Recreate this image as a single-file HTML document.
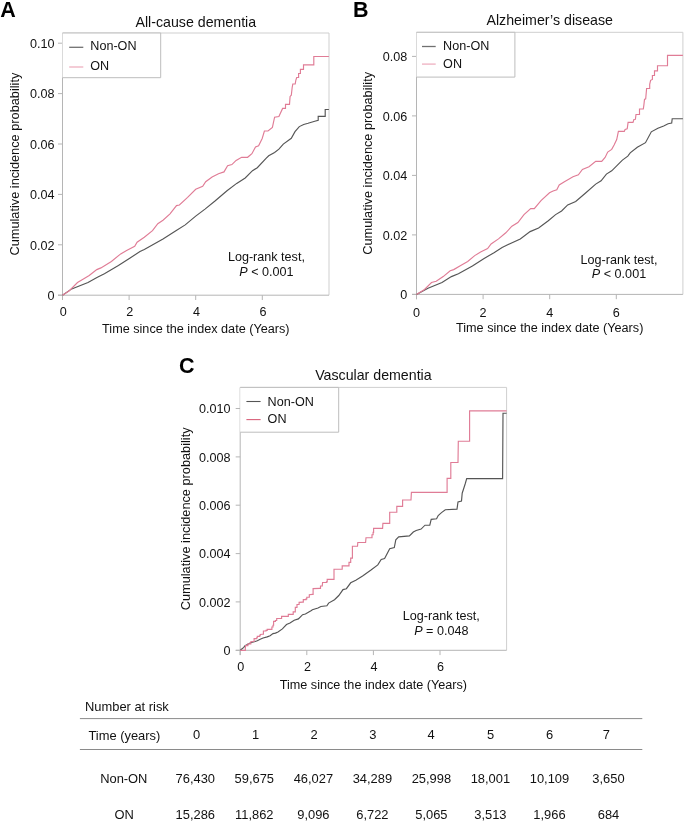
<!DOCTYPE html>
<html><head><meta charset="utf-8"><title>Cumulative incidence</title>
<style>
html,body{margin:0;padding:0;background:#fff;}
body{width:685px;height:824px;overflow:hidden;}
svg{display:block;will-change:transform;}
text{font-family:"Liberation Sans", sans-serif;fill:#111;}
.t{font-size:12.6px;}
.tb{font-size:12.9px;}
.ti{font-size:14.2px;}
.pl{font-size:21.5px;font-weight:bold;fill:#000;}
</style></head>
<body>
<svg width="685" height="824" viewBox="0 0 685 824">
<rect width="685" height="824" fill="#fff"/>
<path d="M62.5 33.0H329.0V295.2" fill="none" stroke="#cfcfcf" stroke-width="1"/>
<path d="M62.5 33.0V300.0" stroke="#b5b5b5" stroke-width="1" fill="none"/>
<path d="M58.0 295.2H62.5" stroke="#b5b5b5" stroke-width="1"/>
<text x="54.6" y="299.9" text-anchor="end" class="t">0</text>
<path d="M58.0 244.8H62.5" stroke="#b5b5b5" stroke-width="1"/>
<text x="54.6" y="249.5" text-anchor="end" class="t">0.02</text>
<path d="M58.0 194.4H62.5" stroke="#b5b5b5" stroke-width="1"/>
<text x="54.6" y="199.1" text-anchor="end" class="t">0.04</text>
<path d="M58.0 144.0H62.5" stroke="#b5b5b5" stroke-width="1"/>
<text x="54.6" y="148.7" text-anchor="end" class="t">0.06</text>
<path d="M58.0 93.6H62.5" stroke="#b5b5b5" stroke-width="1"/>
<text x="54.6" y="98.3" text-anchor="end" class="t">0.08</text>
<path d="M58.0 43.2H62.5" stroke="#b5b5b5" stroke-width="1"/>
<text x="54.6" y="47.9" text-anchor="end" class="t">0.10</text>
<path d="M58.0 295.2H329.0" stroke="#b5b5b5" stroke-width="1" fill="none"/>
<path d="M62.5 295.2V300.0" stroke="#b5b5b5" stroke-width="1"/>
<text x="63.2" y="316.4" text-anchor="middle" class="t">0</text>
<path d="M129.1 295.2V300.0" stroke="#b5b5b5" stroke-width="1"/>
<text x="129.8" y="316.4" text-anchor="middle" class="t">2</text>
<path d="M195.7 295.2V300.0" stroke="#b5b5b5" stroke-width="1"/>
<text x="196.4" y="316.4" text-anchor="middle" class="t">4</text>
<path d="M262.3 295.2V300.0" stroke="#b5b5b5" stroke-width="1"/>
<text x="263.0" y="316.4" text-anchor="middle" class="t">6</text>
<text x="195.8" y="332.8" text-anchor="middle" class="t" style="font-size:12.65px">Time since the index date (Years)</text>
<text transform="translate(19.0 164.1) rotate(-90)" text-anchor="middle" class="t" style="font-size:12.75px">Cumulative incidence probability</text>
<text x="195.8" y="26.9" text-anchor="middle" class="ti">All-cause dementia</text>
<text x="0.3" y="17.0" class="pl">A</text>
<path d="M62.5 33.0H160.7V77.7H62.5" fill="#fff" stroke="#bdbdbd" stroke-width="1"/>
<path d="M69.2 47.3H83.3" stroke="#707070" stroke-width="1.3"/>
<path d="M69.2 67.0H83.3" stroke="#eeb0c0" stroke-width="1.3"/>
<text x="90.3" y="50.4" class="t">Non-ON</text>
<text x="90.3" y="69.9" class="t">ON</text>
<polyline points="62.5,295.2 71.7,288.9 88.0,282.5 97.4,277.2 104.4,273.7 118.4,265.5 130.1,258.0 140.0,251.5 144.3,249.4 163.0,238.9 175.9,230.7 185.2,224.9 195.7,216.1 205.0,209.1 215.0,201.0 227.0,190.7 236.7,183.4 245.2,178.0 252.5,170.7 257.3,167.7 265.8,158.6 268.7,155.8 274.6,152.4 278.9,149.2 283.3,144.1 291.3,138.3 295.0,131.7 299.3,126.6 303.7,124.5 308.1,123.3 313.9,121.5 318.2,120.4 318.2,116.4 325.2,116.4 325.2,109.5 328.9,109.5" fill="none" stroke="#555555" stroke-width="1.15" stroke-linejoin="miter"/>
<polyline points="62.5,295.2 69.3,290.7 77.5,282.5 83.4,279.0 89.2,275.5 96.8,269.6 100.9,267.9 111.4,261.5 120.7,253.9 126.6,250.4 134.7,246.3 137.1,242.2 144.3,237.2 152.5,230.7 157.8,223.7 163.0,220.2 170.0,213.8 176.5,205.6 179.4,205.0 187.6,197.4 195.7,189.3 202.7,186.4 205.7,181.7 212.1,177.0 218.5,173.7 224.0,171.9 227.6,165.8 231.9,164.6 236.1,160.4 241.6,157.3 247.6,157.3 251.9,153.7 255.5,147.0 258.6,145.8 262.2,138.5 264.4,131.0 268.0,131.0 272.4,127.4 274.6,117.2 278.9,116.5 282.6,108.4 285.5,108.4 285.5,104.3 289.5,104.3 290.1,96.4 291.3,95.2 292.2,87.3 292.8,84.0 295.2,84.0 295.8,80.3 296.7,77.5 298.6,77.5 298.6,73.5 300.4,73.5 300.4,69.4 303.5,69.4 303.5,64.8 313.8,64.8 313.8,56.5 328.9,56.5" fill="none" stroke="#e07c96" stroke-width="1.15" stroke-linejoin="miter"/>
<text x="266.4" y="260.8" text-anchor="middle" class="t">Log-rank test,</text>
<text x="266.4" y="276.3" text-anchor="middle" class="t"><tspan font-style="italic">P</tspan> &lt; 0.001</text>
<path d="M416.5 32.3H682.9V294.4" fill="none" stroke="#cfcfcf" stroke-width="1"/>
<path d="M416.5 32.3V299.2" stroke="#b5b5b5" stroke-width="1" fill="none"/>
<path d="M412.0 294.4H416.5" stroke="#b5b5b5" stroke-width="1"/>
<text x="407.3" y="299.1" text-anchor="end" class="t">0</text>
<path d="M412.0 234.9H416.5" stroke="#b5b5b5" stroke-width="1"/>
<text x="407.3" y="239.6" text-anchor="end" class="t">0.02</text>
<path d="M412.0 175.4H416.5" stroke="#b5b5b5" stroke-width="1"/>
<text x="407.3" y="180.1" text-anchor="end" class="t">0.04</text>
<path d="M412.0 115.9H416.5" stroke="#b5b5b5" stroke-width="1"/>
<text x="407.3" y="120.6" text-anchor="end" class="t">0.06</text>
<path d="M412.0 56.4H416.5" stroke="#b5b5b5" stroke-width="1"/>
<text x="407.3" y="61.1" text-anchor="end" class="t">0.08</text>
<path d="M412.0 294.4H682.9" stroke="#b5b5b5" stroke-width="1" fill="none"/>
<path d="M416.5 294.4V299.2" stroke="#b5b5b5" stroke-width="1"/>
<text x="416.5" y="316.5" text-anchor="middle" class="t">0</text>
<path d="M483.1 294.4V299.2" stroke="#b5b5b5" stroke-width="1"/>
<text x="483.1" y="316.5" text-anchor="middle" class="t">2</text>
<path d="M549.7 294.4V299.2" stroke="#b5b5b5" stroke-width="1"/>
<text x="549.7" y="316.5" text-anchor="middle" class="t">4</text>
<path d="M616.3 294.4V299.2" stroke="#b5b5b5" stroke-width="1"/>
<text x="616.3" y="316.5" text-anchor="middle" class="t">6</text>
<text x="549.7" y="332.0" text-anchor="middle" class="t" style="font-size:12.65px">Time since the index date (Years)</text>
<text transform="translate(371.9 163.3) rotate(-90)" text-anchor="middle" class="t" style="font-size:12.75px">Cumulative incidence probability</text>
<text x="549.7" y="25.0" text-anchor="middle" class="ti">Alzheimer’s disease</text>
<text x="352.9" y="17.2" class="pl">B</text>
<path d="M416.5 32.3H514.9V77.1H416.5" fill="#fff" stroke="#bdbdbd" stroke-width="1"/>
<path d="M422 46.5H435.7" stroke="#707070" stroke-width="1.3"/>
<path d="M422 64.1H435.7" stroke="#eeb0c0" stroke-width="1.3"/>
<text x="443.1" y="50.0" class="t">Non-ON</text>
<text x="443.1" y="67.7" class="t">ON</text>
<polyline points="416.5,294.4 428.0,288.3 442.0,282.5 451.4,276.6 458.4,273.7 472.4,266.1 484.1,258.5 494.0,252.7 502.1,247.4 520.3,238.9 530.1,231.6 538.6,228.0 548.3,220.7 555.6,214.6 561.6,211.0 567.7,204.9 575.7,201.5 585.0,193.5 595.7,184.1 601.1,180.8 606.4,174.1 611.7,170.8 622.4,160.1 627.8,156.1 630.2,152.9 637.3,147.2 645.5,142.7 651.3,131.8 657.9,128.2 663.7,126.0 668.1,123.8 671.7,123.1 672.2,118.7 682.9,118.7" fill="none" stroke="#555555" stroke-width="1.15" stroke-linejoin="miter"/>
<polyline points="416.5,294.4 424.5,289.5 431.5,282.5 436.2,281.3 443.2,276.6 450.2,270.8 453.7,269.6 460.7,265.5 467.7,261.5 474.7,255.6 480.6,252.1 487.6,248.6 491.1,243.9 498.5,238.9 505.8,232.8 511.9,226.2 517.9,222.5 524.0,214.6 530.7,208.6 534.3,208.6 541.0,200.7 549.5,192.8 553.1,191.0 556.8,189.7 559.2,184.9 564.0,181.9 573.0,176.8 578.4,174.8 582.4,169.4 589.0,166.8 595.7,161.4 601.7,161.4 605.1,157.4 607.7,152.1 611.7,149.4 614.1,145.0 616.7,139.5 618.4,131.3 624.3,131.3 625.1,129.5 627.2,128.9 628.1,122.4 633.0,122.4 633.9,119.5 635.4,119.3 636.0,114.5 639.5,114.5 639.5,109.0 643.3,109.0 643.9,104.9 644.5,99.4 645.7,98.8 646.6,88.5 649.7,88.5 649.7,84.3 650.6,80.3 652.4,79.4 652.4,75.5 654.5,75.5 654.5,70.9 657.5,70.9 657.5,65.7 667.5,65.7 667.5,55.3 682.9,55.3" fill="none" stroke="#e07c96" stroke-width="1.15" stroke-linejoin="miter"/>
<text x="619" y="263.5" text-anchor="middle" class="t">Log-rank test,</text>
<text x="619" y="278.3" text-anchor="middle" class="t"><tspan font-style="italic">P</tspan> &lt; 0.001</text>
<path d="M240.2 387.4H506.6V650.3" fill="none" stroke="#cfcfcf" stroke-width="1"/>
<path d="M240.2 387.4V655.0999999999999" stroke="#b5b5b5" stroke-width="1" fill="none"/>
<path d="M235.7 650.3H240.2" stroke="#b5b5b5" stroke-width="1"/>
<text x="230.4" y="655.0" text-anchor="end" class="t">0</text>
<path d="M235.7 601.9H240.2" stroke="#b5b5b5" stroke-width="1"/>
<text x="230.4" y="606.6" text-anchor="end" class="t">0.002</text>
<path d="M235.7 553.6H240.2" stroke="#b5b5b5" stroke-width="1"/>
<text x="230.4" y="558.3" text-anchor="end" class="t">0.004</text>
<path d="M235.7 505.2H240.2" stroke="#b5b5b5" stroke-width="1"/>
<text x="230.4" y="509.9" text-anchor="end" class="t">0.006</text>
<path d="M235.7 456.9H240.2" stroke="#b5b5b5" stroke-width="1"/>
<text x="230.4" y="461.6" text-anchor="end" class="t">0.008</text>
<path d="M235.7 408.5H240.2" stroke="#b5b5b5" stroke-width="1"/>
<text x="230.4" y="413.2" text-anchor="end" class="t">0.010</text>
<path d="M235.7 650.3H506.6" stroke="#b5b5b5" stroke-width="1" fill="none"/>
<path d="M240.2 650.3V655.0999999999999" stroke="#b5b5b5" stroke-width="1"/>
<text x="240.8" y="671.3" text-anchor="middle" class="t">0</text>
<path d="M306.8 650.3V655.0999999999999" stroke="#b5b5b5" stroke-width="1"/>
<text x="307.4" y="671.3" text-anchor="middle" class="t">2</text>
<path d="M373.4 650.3V655.0999999999999" stroke="#b5b5b5" stroke-width="1"/>
<text x="374.0" y="671.3" text-anchor="middle" class="t">4</text>
<path d="M440.0 650.3V655.0999999999999" stroke="#b5b5b5" stroke-width="1"/>
<text x="440.6" y="671.3" text-anchor="middle" class="t">6</text>
<text x="373.4" y="688.6" text-anchor="middle" class="t" style="font-size:12.65px">Time since the index date (Years)</text>
<text transform="translate(190.2 518.8) rotate(-90)" text-anchor="middle" class="t" style="font-size:12.75px">Cumulative incidence probability</text>
<text x="373.4" y="380.0" text-anchor="middle" class="ti">Vascular dementia</text>
<text x="179.0" y="372.8" class="pl">C</text>
<path d="M240.2 387.4H338.7V432.2H240.2" fill="#fff" stroke="#bdbdbd" stroke-width="1"/>
<path d="M246.4 401.5H260.6" stroke="#555" stroke-width="1.1"/>
<path d="M246.4 419.6H260.6" stroke="#d9607a" stroke-width="1.1"/>
<text x="267.6" y="405.5" class="t">Non-ON</text>
<text x="267.6" y="423.1" class="t">ON</text>
<polyline points="240.2,650.3 243.8,647.4 245.0,645.6 247.3,644.5 251.4,642.4 254.4,641.8 257.3,640.7 260.2,639.2 263.1,638.0 267.2,636.9 270.1,635.7 273.0,633.6 275.4,633.1 278.0,631.9 282.4,628.9 286.5,624.5 290.0,623.1 294.2,620.3 298.4,618.9 302.6,614.7 305.4,614.0 311.0,610.8 312.4,609.8 318.0,608.0 320.9,606.5 326.9,605.7 328.6,603.1 334.5,599.7 338.8,595.5 343.0,589.6 346.4,588.7 350.7,582.8 355.8,580.2 362.6,576.0 371.0,570.0 377.8,564.9 381.2,559.5 384.6,558.5 389.7,548.8 394.3,547.6 395.8,539.8 398.7,536.9 409.4,535.9 413.3,532.0 416.2,530.5 421.1,529.1 425.0,525.2 429.8,525.2 431.2,519.4 436.6,518.8 438.2,515.5 441.5,512.6 445.3,509.7 457.0,509.1 458.0,501.9 461.5,501.0 462.2,493.2 463.8,488.3 465.3,483.5 466.7,478.6 502.6,478.6 503.0,413.2 506.6,413.2" fill="none" stroke="#555555" stroke-width="1.15" stroke-linejoin="miter"/>
<polyline points="240.2,650.3 245.3,650.3 245.3,648.5 245.6,645.6 247.9,645.6 247.9,643.9 250.8,643.9 250.8,641.8 253.2,641.5 254.1,641.5 254.1,638.6 256.7,638.6 256.7,637.7 257.3,637.7 257.3,636.3 259.6,636.3 259.6,635.7 260.2,635.7 260.2,634.5 262.5,634.2 263.4,634.2 263.4,631.0 266.0,631.0 266.0,630.4 267.2,630.4 267.2,629.3 271.3,629.3 271.9,629.3 271.9,627.0 273.0,627.0 273.0,625.2 273.6,625.2 273.6,621.4 275.4,621.4 275.4,620.5 276.7,620.5 276.7,618.5 280.9,618.5 281.6,618.5 281.6,616.4 287.6,616.4 288.3,616.4 288.3,614.3 292.5,614.3 293.2,614.3 293.2,611.9 295.3,611.9 295.3,607.3 297.0,607.3 297.0,604.5 299.1,604.5 299.1,602.4 302.6,602.1 303.3,602.1 303.3,599.6 306.1,599.6 306.1,598.9 306.8,598.9 306.8,597.2 309.3,597.2 309.3,594.7 312.4,594.4 313.1,594.4 313.1,588.6 319.8,588.4 320.5,588.4 320.5,586.0 322.3,586.0 322.3,585.3 322.6,582.5 326.5,582.5 326.5,581.9 327.2,581.9 327.2,579.4 332.8,579.4 334.0,579.4 334.0,569.2 341.3,569.2 342.2,569.2 342.2,565.8 348.1,565.8 349.0,565.8 349.0,562.4 350.7,562.4 350.7,558.1 352.4,558.1 352.4,546.2 357.5,546.2 357.8,542.5 365.6,542.5 366.0,537.7 371.4,537.7 372.0,537.7 372.0,534.7 373.1,534.7 373.1,532.3 373.6,532.3 373.6,528.4 382.6,528.4 382.9,523.3 388.9,523.3 389.7,523.3 389.7,512.3 396.2,512.2 396.8,512.2 396.8,506.4 402.0,506.4 402.6,506.4 402.6,500.0 411.0,500.0 411.4,492.4 446.7,492.4 447.1,492.4 447.1,478.3 450.2,478.3 450.8,478.3 450.8,462.5 458.0,462.5 458.3,441.2 469.0,441.2 469.6,441.2 469.6,410.9 506.6,410.9" fill="none" stroke="#e07c96" stroke-width="1.15" stroke-linejoin="miter"/>
<text x="441.3" y="619.7" text-anchor="middle" class="t">Log-rank test,</text>
<text x="441.3" y="634.6" text-anchor="middle" class="t"><tspan font-style="italic">P</tspan> = 0.048</text>
<text x="85.0" y="711" class="tb">Number at risk</text>
<path d="M79.9 718.6H642.3M79.9 749.5H642.3" stroke="#8a8a8a" stroke-width="1"/>
<text x="88.4" y="739.5" class="tb">Time (years)</text>
<text x="196.6" y="739.3" text-anchor="middle" class="tb">0</text>
<text x="195.3" y="783.2" text-anchor="middle" class="tb">76,430</text>
<text x="195.3" y="819.1" text-anchor="middle" class="tb">15,286</text>
<text x="255.5" y="739.3" text-anchor="middle" class="tb">1</text>
<text x="254.3" y="783.2" text-anchor="middle" class="tb">59,675</text>
<text x="254.3" y="819.1" text-anchor="middle" class="tb">11,862</text>
<text x="314.2" y="739.3" text-anchor="middle" class="tb">2</text>
<text x="313.4" y="783.2" text-anchor="middle" class="tb">46,027</text>
<text x="313.4" y="819.1" text-anchor="middle" class="tb">9,096</text>
<text x="372.8" y="739.3" text-anchor="middle" class="tb">3</text>
<text x="372.4" y="783.2" text-anchor="middle" class="tb">34,289</text>
<text x="372.4" y="819.1" text-anchor="middle" class="tb">6,722</text>
<text x="431.2" y="739.3" text-anchor="middle" class="tb">4</text>
<text x="431.4" y="783.2" text-anchor="middle" class="tb">25,998</text>
<text x="431.4" y="819.1" text-anchor="middle" class="tb">5,065</text>
<text x="490.6" y="739.3" text-anchor="middle" class="tb">5</text>
<text x="490.4" y="783.2" text-anchor="middle" class="tb">18,001</text>
<text x="490.4" y="819.1" text-anchor="middle" class="tb">3,513</text>
<text x="549.6" y="739.3" text-anchor="middle" class="tb">6</text>
<text x="549.5" y="783.2" text-anchor="middle" class="tb">10,109</text>
<text x="549.5" y="819.1" text-anchor="middle" class="tb">1,966</text>
<text x="606.4" y="739.3" text-anchor="middle" class="tb">7</text>
<text x="608.5" y="783.2" text-anchor="middle" class="tb">3,650</text>
<text x="608.5" y="819.1" text-anchor="middle" class="tb">684</text>
<text x="123.8" y="783.2" text-anchor="middle" class="tb">Non-ON</text>
<text x="124.2" y="819.1" text-anchor="middle" class="tb">ON</text>
</svg>
</body></html>
